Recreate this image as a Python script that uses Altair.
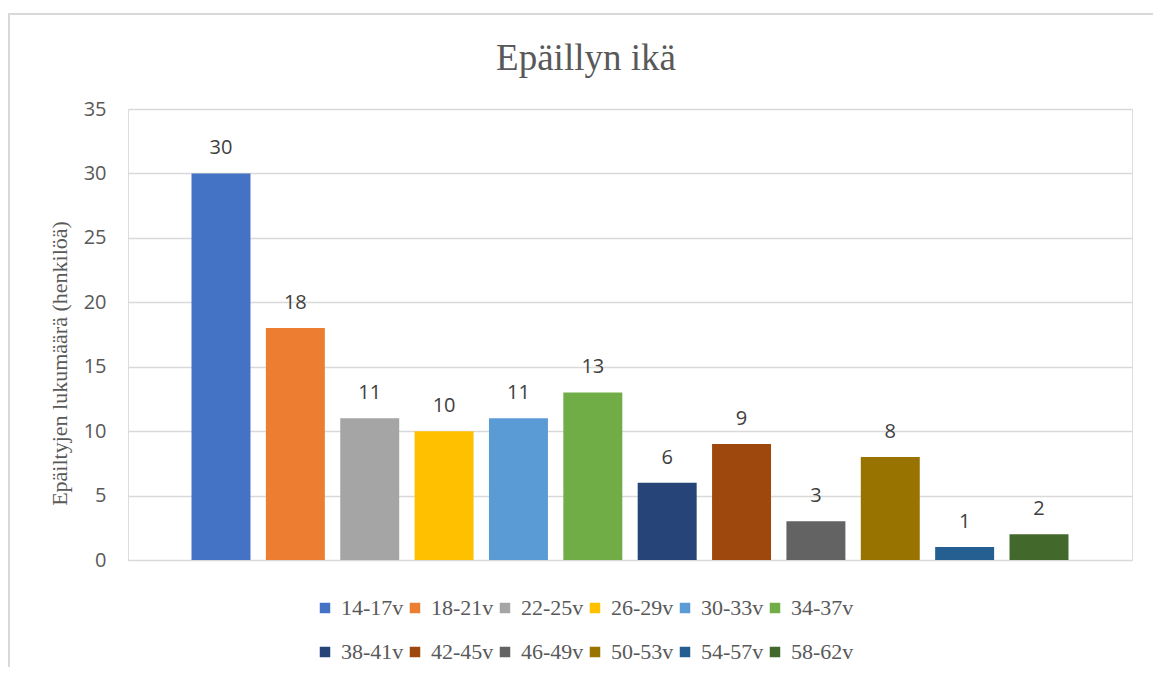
import altair as alt
import pandas as pd

categories = ["14-17v", "18-21v", "22-25v", "26-29v", "30-33v", "34-37v",
              "38-41v", "42-45v", "46-49v", "50-53v", "54-57v", "58-62v"]
values = [30, 18, 11, 10, 11, 13, 6, 9, 3, 8, 1, 2]
colors = ["#4472C4", "#ED7D31", "#A5A5A5", "#FFC000", "#5B9BD5", "#70AD47",
          "#264478", "#9E480E", "#636363", "#997300", "#255E91", "#43682B"]

df = pd.DataFrame({"ika": categories, "lkm": values})

SERIF = "Liberation Serif"
SANS = "Open Sans"

x_enc = alt.X("ika:N", sort=categories,
              scale=alt.Scale(domain=categories, paddingInner=0.207, paddingOuter=0.854),
              axis=None)
y_enc = alt.Y("lkm:Q", scale=alt.Scale(domain=[0, 35], nice=False),
              axis=alt.Axis(values=[0, 5, 10, 15, 20, 25, 30, 35],
                            title="Epäiltyjen lukumäärä (henkilöä)",
                            titleFont=SERIF, titleFontSize=22, titleFontWeight="normal",
                            titleColor="#595959", titleX=-62, titleY=254,
                            titleBaseline="alphabetic",
                            labelFont=SANS, labelFontSize=20, labelColor="#595959",
                            labelPadding=22, ticks=False, domain=False,
                            grid=True, gridColor="#d9d9d9", gridWidth=1.5))

bars = alt.Chart(df).mark_bar().encode(
    x=x_enc,
    y=y_enc,
    color=alt.Color("ika:N", sort=categories,
                    scale=alt.Scale(domain=categories, range=colors),
                    legend=alt.Legend(title=None, orient="none", legendX=186, legendY=488,
                                      direction="horizontal", columns=6,
                                      symbolType="square", symbolSize=110,
                                      symbolStrokeWidth=0, labelFont=SERIF, labelFontSize=22,
                                      labelColor="#595959", labelOffset=5,
                                      columnPadding=-4, rowPadding=22)),
)

labels = alt.Chart(df).mark_text(font=SANS, fontSize=20, color="#404040",
                                 baseline="alphabetic", dy=-19).encode(
    x=x_enc, y=y_enc, text="lkm:Q"
)

border = alt.Chart(alt.Data(values=[{}])).mark_rect(
    fill=None, stroke="#d9d9d9", strokeWidth=2
).encode(x=alt.value(-119), x2=alt.value(1040), y=alt.value(-95), y2=alt.value(580))

chart = alt.layer(border, bars, labels).properties(
    width=1004, height=451,
    title=alt.TitleParams("Epäillyn ikä", font=SERIF, fontSize=37, fontWeight="normal",
                          color="#595959", anchor="middle", baseline="alphabetic",
                          dx=-44, dy=94, offset=0),
    autosize=alt.AutoSizeParams(type="none"),
    padding={"left": 120, "top": 101, "right": 21, "bottom": 107},
).configure_view(stroke=None).configure(background="white")

chart.save("out.html", embed_options={"renderer": "svg", "actions": False})
